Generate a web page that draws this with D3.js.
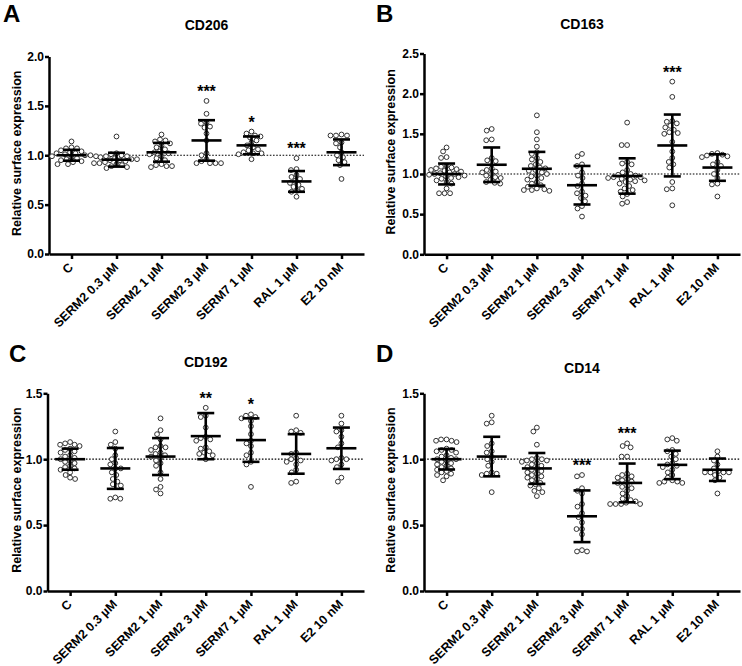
<!DOCTYPE html>
<html lang="en">
<head>
    <meta charset="UTF-8">
    <title>Relative surface expression</title>
    <script src="https://d3js.org/d3.v7.min.js"></script>
    <style>
        body { margin: 0; background: #fff; font-family: "Liberation Sans", Arial, sans-serif; }
        .axis path, .axis line { stroke: #000; stroke-width: 2.5px; }
        .axis text { font-size: 12px; font-weight: bold; fill: #000; }
        .dot { fill: #fff; stroke: #333; stroke-width: 1px; }
        .bar { stroke: #000; stroke-width: 2.6px; }
    </style>
</head>
<body>
    <div id="chart"></div>

    <script>
        const categories = ["C", "SERM2 0.3 µM", "SERM2 1 µM", "SERM2 3 µM", "SERM7 1 µM", "RAL 1 µM", "E2 10 nM"];

        // CD206
        const cd206Values = [
            [1.14, 1.08, 1.07, 1.07, 1.05, 1.04, 1.03, 1.02, 1.02, 1.01, 1.00, 1.00, 0.99, 0.99, 0.98, 0.97, 0.96, 0.95, 0.94, 0.93, 0.91, 0.91],
            [1.19, 1.02, 1.01, 1.00, 0.99, 0.99, 0.98, 0.97, 0.96, 0.96, 0.95, 0.95, 0.94, 0.93, 0.92, 0.92, 0.91, 0.90, 0.89, 0.88, 0.87],
            [1.21, 1.16, 1.15, 1.14, 1.12, 1.10, 1.08, 1.06, 1.04, 1.03, 1.02, 1.01, 0.99, 0.97, 0.95, 0.91, 0.90, 0.89, 0.89, 0.88],
            [1.55, 1.42, 1.33, 1.32, 1.29, 1.28, 1.22, 1.15, 1.02, 1.00, 0.96, 0.94, 0.92, 0.92, 0.92, 0.92],
            [1.24, 1.22, 1.20, 1.19, 1.18, 1.15, 1.13, 1.10, 1.08, 1.06, 1.05, 1.03, 1.02, 1.02, 1.01, 0.96],
            [0.97, 0.86, 0.85, 0.80, 0.78, 0.76, 0.74, 0.72, 0.70, 0.68, 0.66, 0.64, 0.63, 0.58],
            [1.21, 1.20, 1.20, 1.20, 1.13, 1.12, 1.08, 1.03, 1.00, 0.98, 0.95, 0.93, 0.90, 0.76]
        ];
        const cd206Mean = [1.00, 0.955, 1.03, 1.15, 1.10, 0.735, 1.03];
        const cd206Sd = [0.055, 0.07, 0.095, 0.205, 0.09, 0.105, 0.13];
        const cd206Stars = ["", "", "", "***", "*", "***", ""];

        // CD163
        const cd163Values = [
            [1.33, 1.28, 1.21, 1.20, 1.10, 1.09, 1.08, 1.07, 1.06, 1.05, 1.04, 1.03, 1.02, 1.01, 1.00, 1.00, 0.99, 0.98, 0.97, 0.96, 0.95, 0.94, 0.92, 0.90, 0.88, 0.82, 0.76, 0.76, 0.76],
            [1.56, 1.54, 1.43, 1.42, 1.20, 1.17, 1.16, 1.07, 1.05, 1.03, 1.02, 1.00, 0.98, 0.96, 0.95, 0.93, 0.90, 0.89, 0.88],
            [1.73, 1.52, 1.43, 1.34, 1.27, 1.25, 1.20, 1.18, 1.15, 1.12, 1.10, 1.08, 1.07, 1.05, 1.04, 1.02, 1.00, 0.98, 0.97, 0.95, 0.93, 0.90, 0.88, 0.86, 0.84, 0.82, 0.81, 0.80, 0.80, 0.79],
            [1.25, 1.22, 1.12, 1.10, 1.02, 0.98, 0.95, 0.88, 0.85, 0.78, 0.76, 0.73, 0.70, 0.66, 0.60, 0.57, 0.47],
            [1.64, 1.36, 1.36, 1.15, 1.13, 1.12, 1.05, 1.02, 1.00, 0.99, 0.98, 0.97, 0.96, 0.96, 0.95, 0.94, 0.93, 0.92, 0.91, 0.90, 0.88, 0.85, 0.82, 0.80, 0.78, 0.75, 0.72, 0.65, 0.63],
            [2.15, 1.96, 1.66, 1.65, 1.63, 1.60, 1.58, 1.55, 1.52, 1.51, 1.50, 1.40, 1.28, 1.20, 1.15, 1.12, 1.08, 0.90, 0.82, 0.81, 0.61],
            [1.26, 1.25, 1.24, 1.23, 1.22, 1.21, 1.15, 1.12, 1.10, 1.05, 1.00, 0.95, 0.88, 0.87, 0.72]
        ];
        const cd163Mean = [1.00, 1.115, 1.065, 0.86, 0.975, 1.355, 1.08];
        const cd163Sd = [0.13, 0.215, 0.21, 0.24, 0.22, 0.385, 0.165];
        const cd163Stars = ["", "", "", "", "", "***", ""];

        // CD192
        const cd192Values = [
            [1.13, 1.12, 1.11, 1.11, 1.10, 1.08, 1.07, 1.06, 1.05, 1.03, 1.02, 1.01, 1.00, 0.99, 0.98, 0.97, 0.95, 0.94, 0.93, 0.92, 0.90, 0.88, 0.86, 0.85],
            [1.21, 1.13, 1.11, 1.08, 1.03, 1.00, 0.97, 0.96, 0.93, 0.93, 0.90, 0.88, 0.85, 0.83, 0.81, 0.80, 0.71, 0.70, 0.70],
            [1.31, 1.22, 1.19, 1.15, 1.10, 1.09, 1.09, 1.07, 1.05, 1.04, 1.03, 1.02, 1.01, 0.99, 0.97, 0.95, 0.90, 0.85, 0.79, 0.77, 0.74],
            [1.39, 1.33, 1.32, 1.24, 1.17, 1.16, 1.15, 1.14, 1.09, 1.08, 1.06, 1.05, 1.04, 1.03, 1.00],
            [1.34, 1.33, 1.32, 1.31, 1.29, 1.25, 1.19, 1.14, 1.12, 1.10, 1.05, 1.03, 0.98, 0.96, 0.79],
            [1.33, 1.22, 1.21, 1.20, 1.05, 1.04, 1.01, 1.00, 0.99, 0.98, 0.96, 0.92, 0.90, 0.83, 0.82],
            [1.33, 1.27, 1.22, 1.21, 1.17, 1.12, 1.09, 1.01, 1.00, 1.00, 0.99, 0.96, 0.94, 0.86, 0.83]
        ];
        const cd192Mean = [1.00, 0.93, 1.02, 1.175, 1.145, 1.04, 1.083];
        const cd192Sd = [0.08, 0.155, 0.14, 0.175, 0.165, 0.15, 0.157];
        const cd192Stars = ["", "", "", "**", "*", "", ""];

        // CD14
        const cd14Values = [
            [1.15, 1.15, 1.14, 1.14, 1.13, 1.08, 1.07, 1.07, 1.06, 1.05, 1.03, 1.02, 1.01, 1.00, 1.00, 0.99, 0.98, 0.97, 0.96, 0.95, 0.94, 0.93, 0.92, 0.91, 0.90, 0.89, 0.88, 0.87, 0.84],
            [1.33, 1.28, 1.27, 1.12, 1.10, 1.06, 1.05, 1.02, 1.00, 0.98, 0.95, 0.90, 0.89, 0.89, 0.88, 0.75],
            [1.24, 1.21, 1.11, 1.01, 1.00, 1.00, 0.99, 0.99, 0.98, 0.97, 0.96, 0.95, 0.94, 0.93, 0.92, 0.91, 0.90, 0.89, 0.88, 0.87, 0.86, 0.85, 0.84, 0.82, 0.81, 0.80, 0.78, 0.76, 0.75, 0.72],
            [0.88, 0.87, 0.78, 0.76, 0.74, 0.66, 0.64, 0.59, 0.56, 0.52, 0.47, 0.47, 0.43, 0.31, 0.30, 0.30],
            [1.12, 1.10, 1.09, 1.02, 1.02, 0.89, 0.88, 0.87, 0.86, 0.85, 0.84, 0.83, 0.82, 0.80, 0.79, 0.78, 0.76, 0.74, 0.72, 0.70, 0.69, 0.68, 0.67, 0.66, 0.66, 0.66, 0.66],
            [1.16, 1.15, 1.14, 1.07, 1.06, 1.04, 1.02, 1.00, 0.97, 0.96, 0.95, 0.94, 0.92, 0.90, 0.88, 0.86, 0.84, 0.83, 0.83, 0.82, 0.82],
            [1.06, 1.02, 0.99, 0.96, 0.93, 0.91, 0.90, 0.90, 0.90, 0.90, 0.88, 0.86, 0.84, 0.74]
        ];
        const cd14Mean = [1.00, 1.02, 0.93, 0.567, 0.82, 0.957, 0.92];
        const cd14Sd = [0.078, 0.15, 0.117, 0.196, 0.147, 0.108, 0.085];
        const cd14Stars = ["", "", "", "***", "***", "", ""];

        const yTicksA = [0, 0.5, 1.0, 1.5, 2.0];
        const yTicksB = [0, 0.5, 1.0, 1.5, 2.0, 2.5];
        const yTicksCD = [0, 0.5, 1.0, 1.5];

        const panels = [
            { letter: "A", title: "CD206", values: cd206Values, mean: cd206Mean, sd: cd206Sd, stars: cd206Stars,
              ticks: yTicksA, x0: 49, x1: 364, top: 56.5, bottom: 254, letterX: 3, letterY: 22, titleY: 30, labelX: 17 },
            { letter: "B", title: "CD163", values: cd163Values, mean: cd163Mean, sd: cd163Sd, stars: cd163Stars,
              ticks: yTicksB, x0: 424, x1: 740, top: 53.5, bottom: 254.3, letterX: 376, letterY: 22, titleY: 29, labelX: 391 },
            { letter: "C", title: "CD192", values: cd192Values, mean: cd192Mean, sd: cd192Sd, stars: cd192Stars,
              ticks: yTicksCD, x0: 47.5, x1: 364, top: 393.3, bottom: 591, letterX: 9, letterY: 362, titleY: 367, labelX: 17 },
            { letter: "D", title: "CD14", values: cd14Values, mean: cd14Mean, sd: cd14Sd, stars: cd14Stars,
              ticks: yTicksCD, x0: 424, x1: 740, top: 393.3, bottom: 591, letterX: 376, letterY: 362, titleY: 373, labelX: 391 }
        ];

        const width = 742, height = 666;
        const r = 2.4;

        const svg = d3.select("#chart").append("svg")
            .attr("width", width)
            .attr("height", height);

        // simple deterministic swarm so circles don't pile up
        function swarm(vals, y, cx) {
            const minD = 2 * r + 0.3;
            const placed = [];
            const pts = vals.map(v => ({ v, py: y(v) })).sort((a, b) => a.py - b.py);
            pts.forEach(p => {
                for (let k = 0; k < 200; k++) {
                    const off = (k % 2 === 0 ? 1 : -1) * Math.ceil(k / 2) * 0.5;
                    const ok = placed.every(q => (q.px - (cx + off)) ** 2 + (q.py - p.py) ** 2 >= minD * minD);
                    if (ok) { p.px = cx + off; break; }
                }
                placed.push(p);
            });
            return placed;
        }

        panels.forEach(p => {
            const yMax = p.ticks[p.ticks.length - 1];
            const y = d3.scaleLinear().domain([0, yMax]).range([p.bottom, p.top]);
            const x = d3.scalePoint().domain(categories).range([p.x0, p.x1]).padding(0.5);
            const g = svg.append("g");

            g.append("text")
                .attr("x", p.letterX).attr("y", p.letterY)
                .style("font-size", "24px").style("font-weight", "bold")
                .text(p.letter);

            g.append("text")
                .attr("x", (p.x0 + p.x1) / 2).attr("y", p.titleY)
                .attr("text-anchor", "middle")
                .style("font-size", "14px").style("font-weight", "bold")
                .text(p.title);

            g.append("text")
                .attr("transform", `translate(${p.labelX},${(p.top + p.bottom) / 2 - 2}) rotate(-90)`)
                .attr("text-anchor", "middle")
                .attr("dy", "0.35em")
                .style("font-size", "12.5px").style("font-weight", "bold")
                .text("Relative surface expression");

            // reference line at 1.0
            g.append("line")
                .attr("x1", p.x0).attr("x2", p.x1)
                .attr("y1", y(1)).attr("y2", y(1))
                .attr("stroke", "#000").attr("stroke-width", 1.2)
                .attr("stroke-dasharray", "1.6,1.6");

            const yAxis = g.append("g").attr("class", "axis")
                .attr("transform", `translate(${p.x0},0)`)
                .call(d3.axisLeft(y).tickValues(p.ticks).tickFormat(d3.format(".1f")).tickSize(4).tickSizeOuter(0));
            yAxis.selectAll("text").attr("x", -5);

            const xAxis = g.append("g").attr("class", "axis")
                .attr("transform", `translate(0,${p.bottom})`)
                .call(d3.axisBottom(x).tickSize(5).tickSizeOuter(0));
            xAxis.selectAll("text")
                .attr("text-anchor", "end")
                .attr("x", 0).attr("y", 0).attr("dy", 0)
                .attr("transform", "translate(2,14) rotate(-45)")
                .style("font-size", "12.5px");

            categories.forEach((c, i) => {
                const cx = x(c);
                const pts = swarm(p.values[i], y, cx);
                g.selectAll(null).data(pts).enter().append("circle")
                    .attr("class", "dot")
                    .attr("cx", d => d.px).attr("cy", d => d.py).attr("r", r);

                const m = p.mean[i], s = p.sd[i];
                g.append("line").attr("class", "bar")
                    .attr("x1", cx).attr("x2", cx).attr("y1", y(m + s)).attr("y2", y(m - s));
                g.append("line").attr("class", "bar")
                    .attr("x1", cx - 15).attr("x2", cx + 15).attr("y1", y(m)).attr("y2", y(m));
                [m + s, m - s].forEach(v => {
                    g.append("line").attr("class", "bar")
                        .attr("x1", cx - 8.5).attr("x2", cx + 8.5).attr("y1", y(v)).attr("y2", y(v));
                });

                if (p.stars[i]) {
                    const top = y(d3.max(p.values[i]));
                    g.append("text")
                        .attr("x", cx).attr("y", top - 4)
                        .attr("text-anchor", "middle")
                        .style("font-size", "16px").style("font-weight", "bold")
                        .text(p.stars[i]);
                }
            });
        });
    </script>
</body>
</html>
